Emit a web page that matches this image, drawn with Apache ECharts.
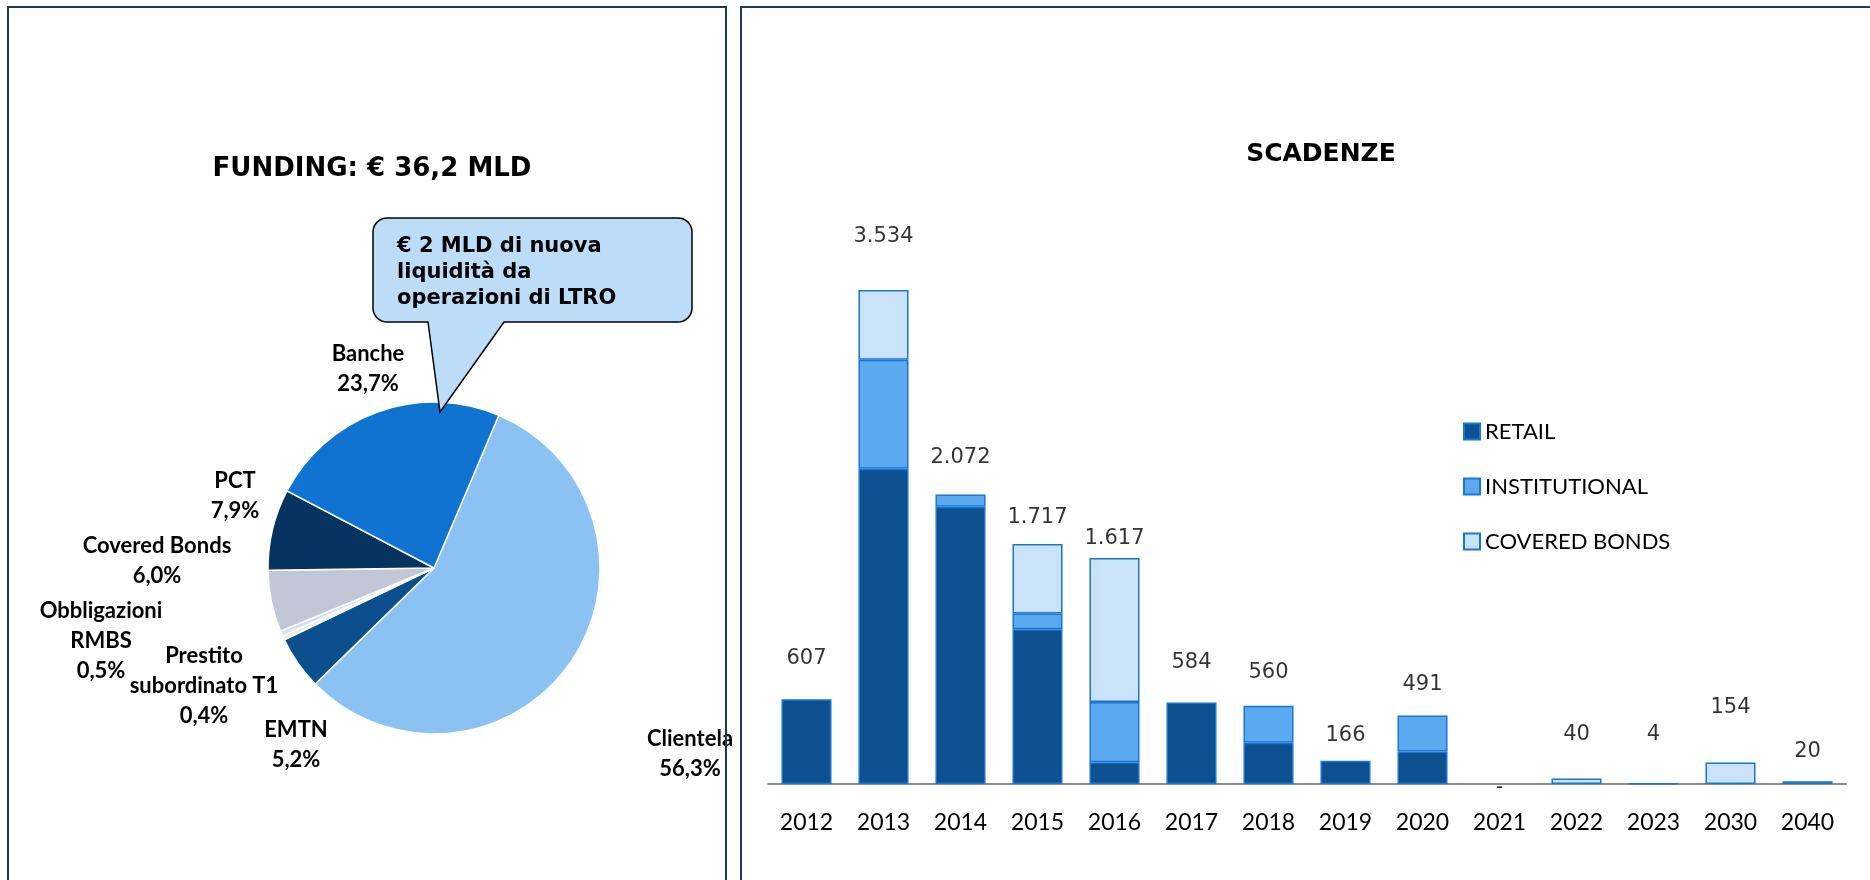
<!DOCTYPE html>
<html>
<head>
<meta charset="utf-8">
<script src="https://cdn.jsdelivr.net/npm/echarts/dist/echarts.min.js"></script>
<style>
html,body{margin:0;padding:0;background:#fff;}
#chart{width:1870px;height:880px;}
</style>
</head>
<body>
<div id="chart"></div>
<script>
// ---------- DATA ----------
const pieNames = ['Clientela', 'EMTN', 'Prestito\nsubordinato T1', 'Obbligazioni\nRMBS', 'Covered Bonds', 'PCT', 'Banche'];
const pieValues = [56.3, 5.2, 0.4, 0.5, 6.0, 7.9, 23.7];

const years = ['2012', '2013', '2014', '2015', '2016', '2017', '2018', '2019', '2020', '2021', '2022', '2023', '2030', '2040'];
const retail        = [607, 2255, 1984, 1107, 156, 584, 296, 166, 233, 0, 0, 0, 0, 0];
const institutional = [0, 780, 88, 113, 430, 0, 264, 0, 258, 0, 0, 4, 0, 20];
const coveredBonds  = [0, 499, 0, 497, 1031, 0, 0, 0, 0, 0, 40, 0, 154, 0];
const totals        = [607, 3534, 2072, 1717, 1617, 584, 560, 166, 491, 0, 40, 4, 154, 20];

const seriesNames = ['RETAIL', 'INSTITUTIONAL', 'COVERED BONDS'];

// ---------- LAYOUT / STYLE (not data) ----------
const pieColors = ['#8BC1F3', '#0C4F8E', '#E6E9F0', '#DADFE9', '#C1C7D7', '#06335F', '#1173D1'];
const pieLabelPos = [[690, 754], [296, 745], [204, 686], [101, 641], [157, 561], [235, 496], [368, 369]];
const barLabelDist = [30, 43, 26, 16, 8, 29, 22, 14, 20, -15, 33, 38, 44, 19];

function fmtIt(v) {
  if (v === 0) return '-';
  return String(v).replace(/\B(?=(\d{3})+(?!\d))/g, '.');
}

function calloutPoints(x0, y0, x1, y1, r, tailL, tailR, tipX, tipY) {
  const pts = [];
  const arc = (cx, cy, a0, a1) => {
    const n = 8;
    for (let i = 0; i <= n; i++) {
      const a = a0 + (a1 - a0) * i / n;
      pts.push([cx + r * Math.cos(a), cy + r * Math.sin(a)]);
    }
  };
  arc(x0 + r, y0 + r, Math.PI, Math.PI * 1.5);
  arc(x1 - r, y0 + r, Math.PI * 1.5, Math.PI * 2);
  arc(x1 - r, y1 - r, 0, Math.PI * 0.5);
  pts.push([tailR, y1]);
  pts.push([tipX, tipY]);
  pts.push([tailL, y1]);
  arc(x0 + r, y1 - r, Math.PI * 0.5, Math.PI);
  return pts;
}

const chart = echarts.init(document.getElementById('chart'));
const barBorder = '#1A76D2';
const zeroToDash = arr => arr.map(v => (v === 0 ? '-' : v));

const option = {
  backgroundColor: '#fff',
  animation: false,
  title: [
    {
      text: 'FUNDING: € 36,2 MLD', left: 372, top: 156, textAlign: 'center', padding: 0,
      textStyle: { fontFamily: 'DejaVu Sans', fontWeight: 'bold', fontSize: 26, color: '#000' }
    },
    {
      text: 'SCADENZE', left: 1321, top: 142, textAlign: 'center', padding: 0,
      textStyle: { fontFamily: 'DejaVu Sans', fontWeight: 'bold', fontSize: 25, color: '#000' }
    }
  ],
  legend: {
    data: seriesNames,
    orient: 'vertical',
    left: 1463,
    top: 420,
    padding: 0,
    itemWidth: 16,
    itemHeight: 16,
    itemGap: 32,
    icon: 'rect',
    textStyle: { fontFamily: 'Lato', fontSize: 22, lineHeight: 23, color: '#000' }
  },
  grid: { left: 768, right: 24, top: 225, bottom: 96, containLabel: false },
  xAxis: {
    type: 'category',
    data: years,
    axisLine: { lineStyle: { color: '#8C8C8C', width: 2 } },
    axisTick: { interval: 0, length: 8, lineStyle: { color: '#8C8C8C', width: 2 } },
    axisLabel: { interval: 0, margin: 27, fontFamily: 'Lato', fontSize: 23, color: '#000' }
  },
  yAxis: { type: 'value', min: 0, max: 4000, show: false, splitLine: { show: false } },
  series: [
    {
      type: 'pie',
      name: 'Funding',
      center: [434, 568],
      radius: 166,
      startAngle: 67,
      clockwise: true,
      silent: true,
      data: pieNames.map((n, i) => ({ name: n, value: pieValues[i], itemStyle: { color: pieColors[i] } })),
      itemStyle: { borderColor: '#fff', borderWidth: 1.5 },
      label: {
        show: true,
        position: 'outside',
        formatter: p => p.name + '\n' + p.value.toFixed(1).replace('.', ',') + '%',
        fontFamily: 'Lato',
        fontWeight: 'bold',
        fontSize: 22,
        lineHeight: 30,
        color: '#000',
        align: 'center'
      },
      labelLine: { show: false },
      labelLayout: function (params) {
        const p = pieLabelPos[params.dataIndex];
        return { x: p[0], y: p[1], align: 'center', verticalAlign: 'middle' };
      }
    },
    {
      type: 'bar', name: seriesNames[0], stack: 'scad', barWidth: '65%',
      data: zeroToDash(retail),
      itemStyle: { color: '#0E5191', borderColor: barBorder, borderWidth: 1.5 }
    },
    {
      type: 'bar', name: seriesNames[1], stack: 'scad', barWidth: '65%',
      data: zeroToDash(institutional),
      itemStyle: { color: '#5BA9EE', borderColor: barBorder, borderWidth: 1.5 }
    },
    {
      type: 'bar', name: seriesNames[2], stack: 'scad', barWidth: '65%',
      data: zeroToDash(coveredBonds),
      itemStyle: { color: '#CBE3F9', borderColor: barBorder, borderWidth: 1.5 }
    },
    {
      type: 'scatter', name: 'totale', silent: true, z: 5,
      symbolSize: 1,
      itemStyle: { color: 'rgba(0,0,0,0)' },
      data: totals.map((v, i) => ({ value: v, label: { distance: barLabelDist[i] } })),
      label: {
        show: true, position: 'top',
        formatter: p => fmtIt(p.value),
        fontFamily: 'DejaVu Sans', fontSize: 21, color: '#000'
      }
    }
  ],
  graphic: [
    {
      type: 'rect', silent: true, z: 100,
      shape: { x: 8, y: 7, width: 718, height: 900 },
      style: { fill: 'none', stroke: '#1B3A5E', lineWidth: 2 }
    },
    {
      type: 'rect', silent: true, z: 100,
      shape: { x: 741, y: 7, width: 1200, height: 900 },
      style: { fill: 'none', stroke: '#1B3A5E', lineWidth: 2 }
    },
    {
      type: 'polygon', silent: true, z: 100,
      shape: { points: calloutPoints(373, 218, 692, 322, 14, 428, 504, 440, 412) },
      style: { fill: '#BCDCF8', stroke: '#000', lineWidth: 1.5 }
    },
    {
      type: 'text', silent: true, z: 101,
      x: 397, y: 234,
      style: {
        text: '€ 2 MLD di nuova\nliquidità da\noperazioni di LTRO',
        fontFamily: 'DejaVu Sans', fontWeight: 'bold', fontSize: 21, lineHeight: 26,
        fill: '#000', align: 'left', verticalAlign: 'top'
      }
    }
  ]
};
chart.setOption(option);
</script>
</body>
</html>
